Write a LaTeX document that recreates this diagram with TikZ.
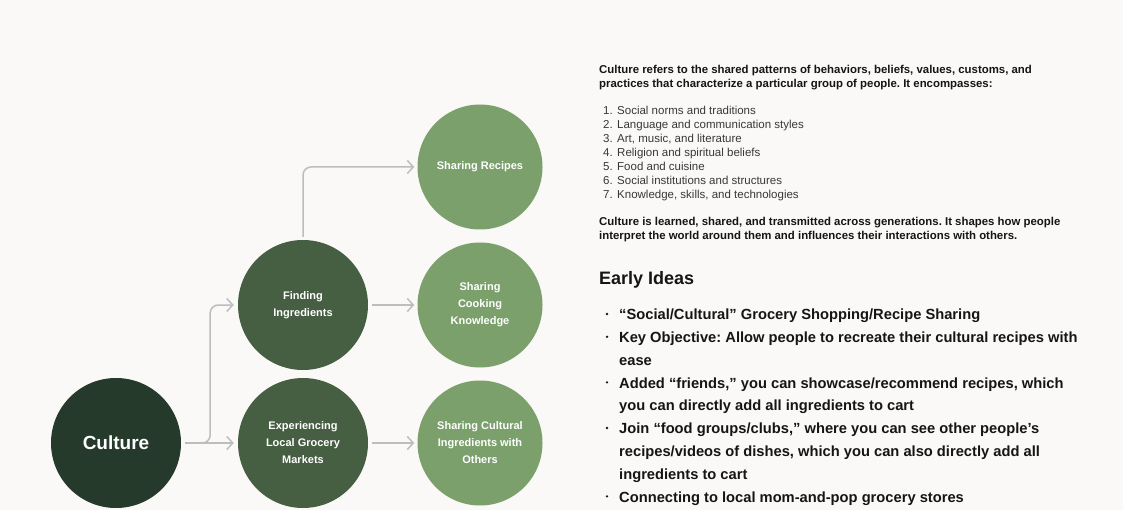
\documentclass[tikz,border=0pt]{standalone}
\usepackage{fontspec}
\setmainfont{Liberation Sans}
\usepackage{tikz}
\usetikzlibrary{arrows.meta}
\definecolor{paperbg}{HTML}{FAF9F7}
\definecolor{rootgreen}{HTML}{263A2B}
\definecolor{midgreen}{HTML}{465E42}
\definecolor{leafgreen}{HTML}{7BA06C}
\definecolor{linkgray}{HTML}{BDBDBD}
\definecolor{inkblack}{HTML}{151515}
\frenchspacing
\begin{document}
\begin{tikzpicture}[x=1pt,y=-1pt,
    bubble/.style={circle,inner sep=0pt,minimum size=130pt,text=white,align=center,
      font=\fontsize{11}{17}\selectfont\bfseries},
    rootbubble/.style={bubble,fill=rootgreen,font=\fontsize{19}{23}\selectfont\bfseries},
    midbubble/.style={bubble,fill=midgreen},
    leafbubble/.style={bubble,fill=leafgreen,minimum size=125pt},
    link/.style={draw=linkgray,line width=1.5pt,rounded corners=8pt,
      -{Straight Barb[length=6pt,width=13pt,line width=1.5pt]}},
    bodytext/.style={inner sep=0pt,align=left,text=inkblack},
    smalltext/.style={bodytext,text=inkblack!85,font=\fontsize{11.5}{14}\selectfont},
    boldtext/.style={bodytext,font=\fontsize{11.4}{14}\selectfont\bfseries},
    bigtext/.style={bodytext,font=\fontsize{14.7}{22.8}\selectfont\bfseries},
    dotmark/.style={circle,fill=inkblack,inner sep=0pt,minimum size=2.6pt}]
  \fill [paperbg] (0,0) rectangle (1123,510);
  \useasboundingbox (0,0) rectangle (1123,510);

  \node [rootbubble] (culture) at (116,443) {Culture};
  \node [midbubble] (finding) at (303,305) {Finding\\Ingredients};
  \node [midbubble] (exper) at (303,443) {Experiencing\\Local Grocery\\Markets};
  \node [leafbubble] (recipes) at (480,167) {Sharing Recipes};
  \node [leafbubble] (cooking) at (480,305) {Sharing\\Cooking\\Knowledge};
  \node [leafbubble] (sharecult) at (480,443) {Sharing Cultural\\Ingredients with\\Others};

  \draw [link,shorten <=4pt,shorten >=4pt] (culture.east) -- (exper.west);
  \draw [link,shorten <=4pt,shorten >=4pt] (culture.east) -- ++(29,0) |- (finding.west);
  \draw [link,shorten <=3pt,shorten >=3pt] (finding.north) |- (recipes.west);
  \draw [link,shorten <=4pt,shorten >=3pt] (finding.east) -- (cooking.west);
  \draw [link,shorten <=4pt,shorten >=3pt] (exper.east) -- (sharecult.west);

  \node [boldtext,anchor=north west] (intro) at (599,63.2) {\strut Culture refers to the shared patterns of behaviors, beliefs, values, customs, and\\practices that characterize a particular group of people. It encompasses:};
  \foreach \i/\t in {1/Social norms and traditions,2/Language and communication styles,
      3/{Art, music, and literature},4/Religion and spiritual beliefs,5/Food and cuisine,
      6/Social institutions and structures,7/{Knowledge, skills, and technologies}}
    \node [smalltext,anchor=base west] (item\i) at (603,{115+13.9*(\i-1)}) {\makebox[14pt][l]{\i.}\t};
  \node [boldtext,anchor=north west] (outro) at (599,216) {\strut Culture is learned, shared, and transmitted across generations. It shapes how people\\interpret the world around them and influences their interactions with others.};

  \node [bodytext,anchor=base west,font=\fontsize{18}{23}\selectfont\bfseries] (early) at (599,284) {Early Ideas};
  \node [bigtext,anchor=north west] (ideas) at (619,303.5) {\strut “Social/Cultural” Grocery Shopping/Recipe Sharing\\
    Key Objective: Allow people to recreate their cultural recipes with\\
    ease\\
    Added “friends,” you can showcase/recommend recipes, which\\
    you can directly add all ingredients to cart\\
    Join “food groups/clubs,” where you can see other people’s\\
    recipes/videos of dishes, which you can also directly add all\\
    ingredients to cart\\
    Connecting to local mom-and-pop grocery stores};
  \foreach \l in {1,2,4,6,9}
    \node [dotmark] (dot\l) at (607,{319.5+22.8*(\l-1)-5.5}) {};
\end{tikzpicture}
\end{document}
